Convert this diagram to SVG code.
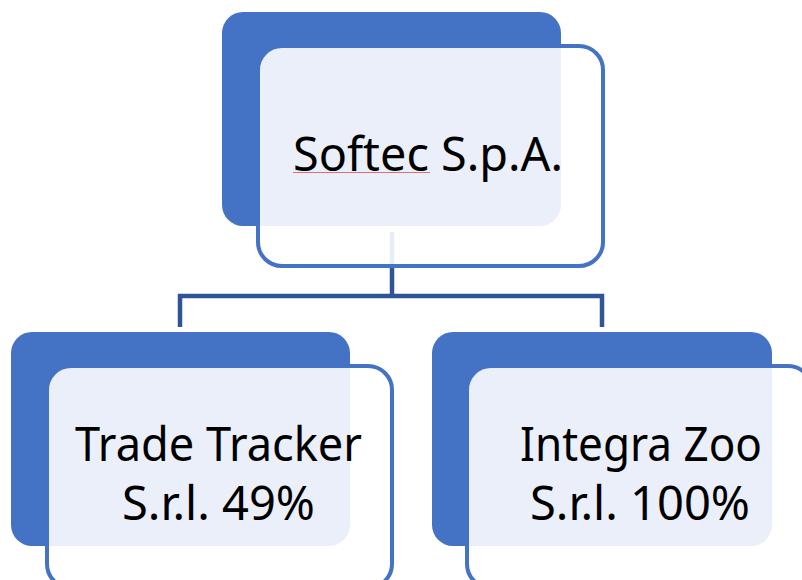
<svg xmlns="http://www.w3.org/2000/svg" width="802" height="580" viewBox="0 0 802 580">
<style>
.back{fill:#4472C4}
.front{fill:#ffffff;fill-opacity:0.89;stroke:#4472C4;stroke-width:4}
.conn{fill:none;stroke:#2F5597;stroke-width:4.5}
.lbl{font-family:"Noto Sans","Liberation Sans",Arial,sans-serif;font-size:48px;fill:#000000;text-anchor:middle}
</style>
<rect width="802" height="580" fill="#ffffff"/>
<g id="connectors">
<path class="conn" d="M392,232 V296"/>
<path class="conn" d="M180,327 V296 H602 V327"/>
</g>
<g id="softec">
<rect class="back" x="222" y="12" width="339" height="214" rx="21"/>
<rect class="front" x="258" y="46" width="345" height="220" rx="24"/>
<text class="lbl" x="428" y="171" textLength="270" lengthAdjust="spacingAndGlyphs">Softec S.p.A.</text>
<line x1="293" y1="172.5" x2="430" y2="172.5" stroke="#E07070" stroke-width="1"/>
</g>
<g id="tradetracker">
<rect class="back" x="11" y="332" width="339" height="214" rx="21"/>
<rect class="front" x="47" y="366" width="345" height="222" rx="24"/>
<text class="lbl" x="218.5" y="461" textLength="287" lengthAdjust="spacingAndGlyphs">Trade Tracker</text>
<text class="lbl" x="218.5" y="520" textLength="193" lengthAdjust="spacingAndGlyphs">S.r.l. 49%</text>
</g>
<g id="integrazoo">
<rect class="back" x="432" y="332" width="340" height="214" rx="21"/>
<rect class="front" x="467" y="366" width="345" height="222" rx="24"/>
<text class="lbl" x="641" y="461" textLength="242" lengthAdjust="spacingAndGlyphs">Integra Zoo</text>
<text class="lbl" x="640" y="520" textLength="220" lengthAdjust="spacingAndGlyphs">S.r.l. 100%</text>
</g>
</svg>
